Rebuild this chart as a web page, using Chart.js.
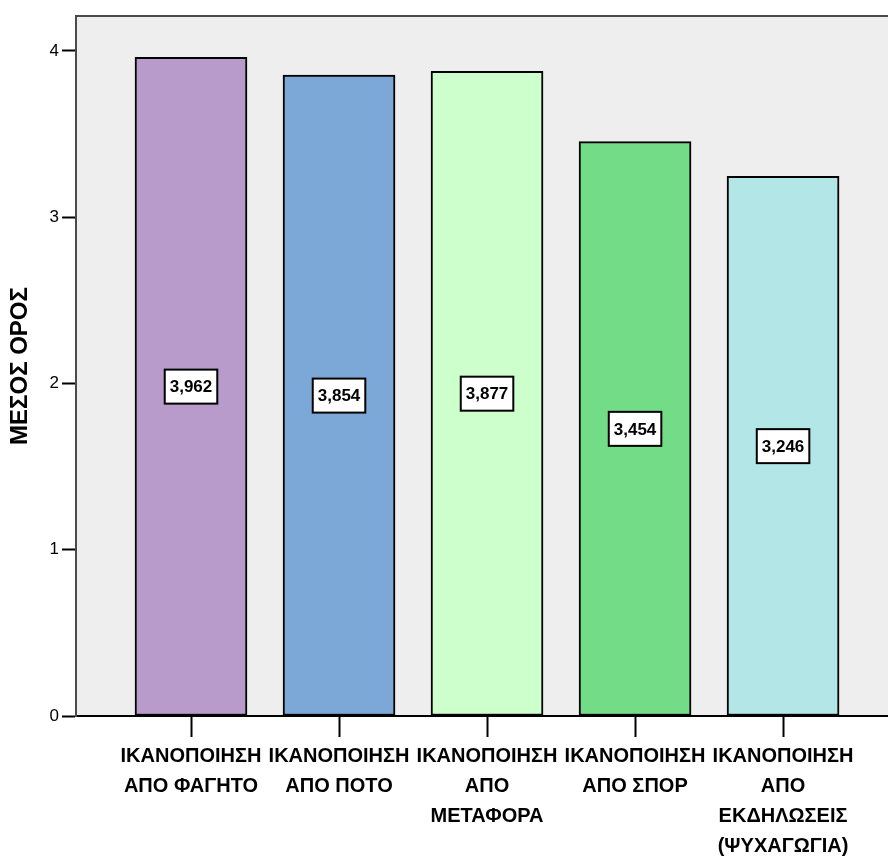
<!DOCTYPE html>
<html>
<head>
<meta charset="utf-8">
<script src="https://cdn.jsdelivr.net/npm/chart.js@4/dist/chart.umd.min.js"></script>
<style>
  html, body { margin: 0; padding: 0; background: #ffffff; overflow: hidden; }
  #wrap { width: 888px; height: 857px; }
</style>
</head>
<body>
<div id="wrap"><canvas id="c" width="888" height="857"></canvas></div>
<script>
// Mean satisfaction per area
const categories = [
  ['ΙΚΑΝΟΠΟΙΗΣΗ', 'ΑΠΟ ΦΑΓΗΤΟ'],
  ['ΙΚΑΝΟΠΟΙΗΣΗ', 'ΑΠΟ ΠΟΤΟ'],
  ['ΙΚΑΝΟΠΟΙΗΣΗ', 'ΑΠΟ', 'ΜΕΤΑΦΟΡΑ'],
  ['ΙΚΑΝΟΠΟΙΗΣΗ', 'ΑΠΟ ΣΠΟΡ'],
  ['ΙΚΑΝΟΠΟΙΗΣΗ', 'ΑΠΟ', 'ΕΚΔΗΛΩΣΕΙΣ', '(ΨΥΧΑΓΩΓΙΑ)']
];
const means = [3.962, 3.854, 3.877, 3.454, 3.246];
const barColors = ['#B99BCB', '#7BA8D6', '#CCFFCC', '#72DD86', '#B3E7E7'];
const yTicks = [0, 1, 2, 3, 4];
const yTitle = 'ΜΕΣΟΣ ΟΡΟΣ';

const FONT = '"Liberation Sans", Arial, sans-serif';

// Grey plot background plus the frame line along the top
const plotFrame = {
  id: 'plotFrame',
  beforeDraw(chart) {
    const { ctx, chartArea: a } = chart;
    ctx.save();
    ctx.fillStyle = '#EEEEEE';
    ctx.fillRect(a.left, a.top, a.right - a.left, a.bottom - a.top);
    ctx.strokeStyle = '#4a4a4a';
    ctx.lineWidth = 2;
    ctx.beginPath();
    ctx.moveTo(a.left, a.top);
    ctx.lineTo(a.right, a.top);
    ctx.stroke();
    ctx.restore();
  }
};

// Boxed value label at the middle of every bar
const valueBoxes = {
  id: 'valueBoxes',
  afterDatasetsDraw(chart) {
    const { ctx } = chart;
    const yScale = chart.scales.y;
    const meta = chart.getDatasetMeta(0);
    ctx.save();
    ctx.font = 'bold 17px ' + FONT;
    ctx.textAlign = 'center';
    ctx.textBaseline = 'middle';
    meta.data.forEach((bar, i) => {
      const v = chart.data.datasets[0].data[i].y;
      const text = v.toFixed(3).replace('.', ',');
      const cy = yScale.getPixelForValue(v / 2);
      const w = ctx.measureText(text).width + 10;
      const h = 34;
      ctx.fillStyle = '#ffffff';
      ctx.fillRect(bar.x - w / 2, cy - h / 2, w, h);
      ctx.strokeStyle = '#000000';
      ctx.lineWidth = 2;
      ctx.strokeRect(bar.x - w / 2, cy - h / 2, w, h);
      ctx.fillStyle = '#000000';
      ctx.fillText(text, bar.x, cy + 1);
    });
    ctx.restore();
  }
};

new Chart(document.getElementById('c'), {
  type: 'bar',
  data: {
    datasets: [{
      data: means.map((m, i) => ({ x: i, y: m })),
      backgroundColor: barColors,
      borderColor: '#000000',
      borderWidth: 2,
      borderSkipped: false,
      barThickness: 112
    }]
  },
  options: {
    responsive: false,
    animation: false,
    layout: { padding: { top: 16, right: 0, left: 0, bottom: 0 } },
    plugins: { legend: { display: false }, tooltip: { enabled: false } },
    scales: {
      x: {
        type: 'linear',
        offset: false,
        min: -0.777,
        max: 4.709,
        afterBuildTicks: (axis) => { axis.ticks = categories.map((_, i) => ({ value: i })); },
        afterFit: (axis) => { axis.height = 141; },
        grid: { offset: false, drawOnChartArea: false, tickLength: 21, tickWidth: 2, tickColor: '#000000' },
        border: { display: true, color: '#000000', width: 2 },
        ticks: {
          autoSkip: false,
          maxRotation: 0,
          minRotation: 0,
          padding: 4,
          color: '#000000',
          font: { family: FONT, size: 20, weight: 'bold', lineHeight: 1.5 },
          callback: (v) => categories[v] || ''
        }
      },
      y: {
        min: 0,
        max: 4.21,
        afterBuildTicks: (axis) => { axis.ticks = yTicks.map(v => ({ value: v })); },
        afterFit: (axis) => { axis.width = 76; },
        grid: { drawOnChartArea: false, tickLength: 14, tickWidth: 2, tickColor: '#000000' },
        border: { display: true, color: '#4a4a4a', width: 2 },
        ticks: {
          padding: 3,
          color: '#000000',
          font: { family: FONT, size: 17 }
        },
        title: {
          display: true,
          text: yTitle,
          color: '#000000',
          padding: { top: 6, bottom: 0 },
          font: { family: FONT, size: 24, weight: 'bold' }
        }
      }
    }
  },
  plugins: [plotFrame, valueBoxes]
});
</script>
</body>
</html>
